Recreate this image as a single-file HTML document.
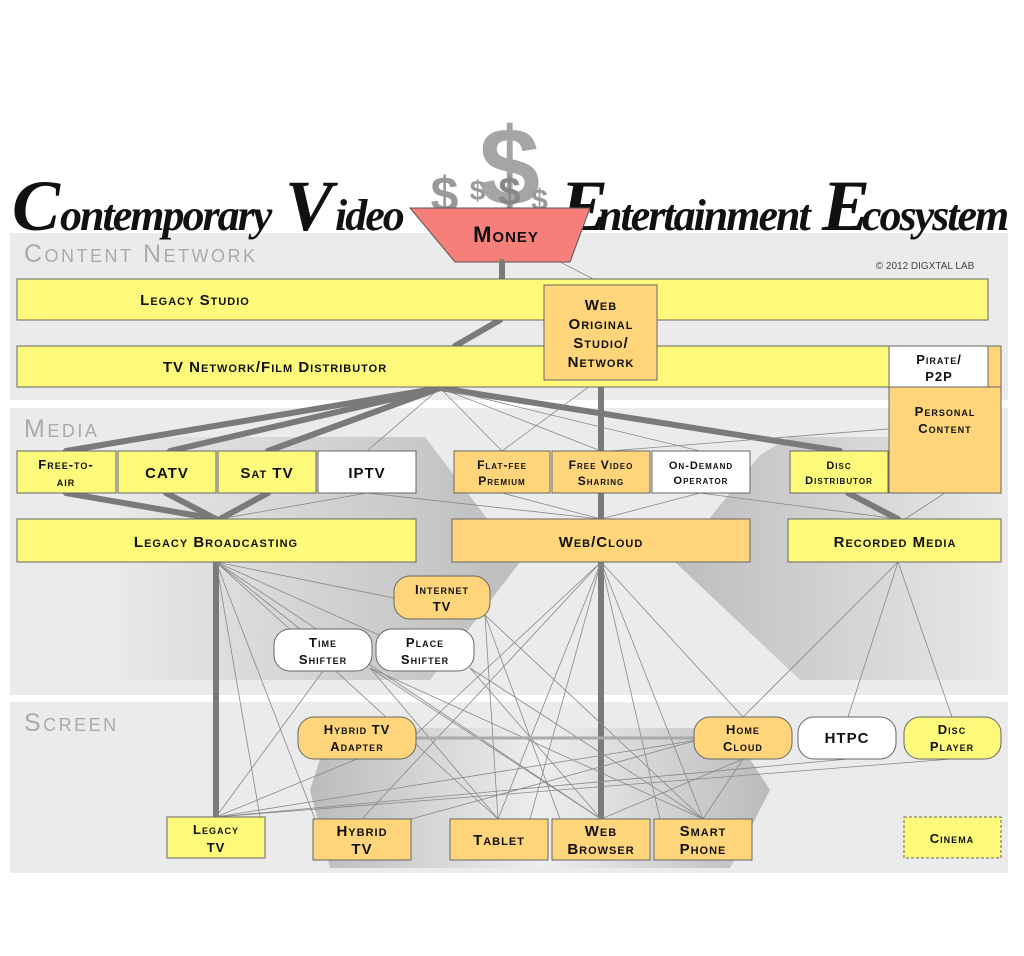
<!DOCTYPE html>
<html><head><meta charset="utf-8"><style>
html,body{margin:0;padding:0;background:#fff;width:1024px;height:956px;overflow:hidden}
svg text{font-family:"Liberation Sans",sans-serif;font-weight:bold;font-variant:small-caps;letter-spacing:1px;fill:#111;text-anchor:middle}
</style></head><body>
<svg width="1024" height="956" viewBox="0 0 1024 956" xmlns="http://www.w3.org/2000/svg">
<defs>
<linearGradient id="gh" x1="0" x2="1"><stop offset="0" stop-color="#bbb"/><stop offset=".5" stop-color="#eee"/><stop offset="1" stop-color="#bbb"/></linearGradient>
<linearGradient id="gl" x1="0" x2="1"><stop offset="0" stop-color="#e8e8e8"/><stop offset="1" stop-color="#bdbdbd"/></linearGradient>
<linearGradient id="gr" x1="0" x2="1"><stop offset="0" stop-color="#bdbdbd"/><stop offset="1" stop-color="#e8e8e8"/></linearGradient>
</defs>
<rect x="10" y="233" width="998" height="167" fill="#ebebeb"/>
<rect x="10" y="408" width="998" height="287" fill="#ebebeb"/>
<rect x="10" y="702" width="998" height="171" fill="#ebebeb"/>
<polygon points="120,437 425,437 520,562 430,680 120,680" fill="url(#gl)"/>
<polygon points="675,562 760,455 790,437 1000,437 1000,680 800,680" fill="url(#gr)"/>
<polygon points="330,728 730,728 770,790 730,868 330,868 310,790" fill="url(#gh)"/>
<text x="24" y="262" style="font-size:25px;fill:#aaa;font-weight:normal;text-anchor:start;letter-spacing:2.5px">Content Network</text>
<text x="24" y="437" style="font-size:25px;fill:#aaa;font-weight:normal;text-anchor:start;letter-spacing:2.5px">Media</text>
<text x="24" y="731" style="font-size:25px;fill:#aaa;font-weight:normal;text-anchor:start;letter-spacing:2.5px">Screen</text>
<text x="925" y="269" style="font-size:10px;font-weight:normal;fill:#444;letter-spacing:0">© 2012 DIGXTAL LAB</text>
<g>
<text x="12" y="230" style="font-family:'Liberation Serif',serif;font-size:72px;text-anchor:start;font-variant:normal;font-style:italic;letter-spacing:-2px">C</text>
<text x="60" y="230" style="font-family:'Liberation Serif',serif;font-size:44px;text-anchor:start;font-variant:normal;font-style:italic;letter-spacing:-2px">ontemporary</text>
<text x="285" y="230" style="font-family:'Liberation Serif',serif;font-size:72px;text-anchor:start;font-variant:normal;font-style:italic;letter-spacing:-2px">V</text>
<text x="335" y="230" style="font-family:'Liberation Serif',serif;font-size:44px;text-anchor:start;font-variant:normal;font-style:italic;letter-spacing:-2px">ideo</text>
<text x="560" y="230" style="font-family:'Liberation Serif',serif;font-size:72px;text-anchor:start;font-variant:normal;font-style:italic;letter-spacing:-2px">E</text>
<text x="598" y="230" style="font-family:'Liberation Serif',serif;font-size:44px;text-anchor:start;font-variant:normal;font-style:italic;letter-spacing:-2px">ntertainment</text>
<text x="822" y="230" style="font-family:'Liberation Serif',serif;font-size:72px;text-anchor:start;font-variant:normal;font-style:italic;letter-spacing:-2px">E</text>
<text x="862" y="230" style="font-family:'Liberation Serif',serif;font-size:44px;text-anchor:start;font-variant:normal;font-style:italic;letter-spacing:-2px">cosystem</text>
</g>
<g>
<text x="510" y="205" style="font-size:110px;fill:#a5a5a5;font-variant:normal">$</text>
<text x="445" y="212" style="font-size:50px;fill:#999;font-variant:normal">$</text>
<text x="478" y="200" style="font-size:28px;fill:#999;font-variant:normal">$</text>
<text x="510" y="205" style="font-size:40px;fill:#888;font-variant:normal">$</text>
<text x="540" y="210" style="font-size:30px;fill:#999;font-variant:normal">$</text>
</g>
<polygon points="410,208 590,208 570,262 455,262" fill="#f77f7a" stroke="#555"/>
<text x="506" y="242" style="font-size:22px">Money</text>
<g stroke="#7a7a7a" stroke-width="6" fill="none" stroke-linecap="round">
<line x1="502" y1="262" x2="502" y2="279"/>
<line x1="500" y1="320" x2="455" y2="346"/>
<line x1="440" y1="388" x2="66" y2="451"/>
<line x1="440" y1="388" x2="170" y2="451"/>
<line x1="440" y1="388" x2="268" y2="451"/>
<line x1="440" y1="388" x2="840" y2="451"/>
<line x1="66" y1="493" x2="216" y2="519"/>
<line x1="166" y1="493" x2="216" y2="519"/>
<line x1="268" y1="493" x2="220" y2="519"/>
<line x1="848" y1="493" x2="898" y2="519"/>
<line x1="601" y1="380" x2="601" y2="519"/>
<line x1="601" y1="562" x2="601" y2="817"/>
<line x1="216" y1="562" x2="216" y2="817"/>
</g>
<g stroke="#888" stroke-width="0.8" fill="none">
<line x1="560" y1="262" x2="605" y2="285"/>
<line x1="440" y1="388" x2="367" y2="451"/>
<line x1="440" y1="388" x2="502" y2="451"/>
<line x1="440" y1="388" x2="601" y2="451"/>
<line x1="440" y1="388" x2="700" y2="451"/>
<line x1="598" y1="380" x2="502" y2="451"/>
<line x1="1001" y1="420" x2="610" y2="451"/>
<line x1="367" y1="493" x2="220" y2="519"/>
<line x1="367" y1="493" x2="601" y2="519"/>
<line x1="502" y1="493" x2="601" y2="519"/>
<line x1="700" y1="493" x2="601" y2="519"/>
<line x1="700" y1="493" x2="898" y2="519"/>
<line x1="945" y1="493" x2="905" y2="519"/>
<line x1="216" y1="562" x2="394" y2="598"/>
<line x1="216" y1="562" x2="300" y2="629"/>
<line x1="216" y1="562" x2="390" y2="640"/>
<line x1="216" y1="562" x2="315" y2="819"/>
<line x1="216" y1="562" x2="260" y2="817"/>
<line x1="216" y1="562" x2="498" y2="819"/>
<line x1="216" y1="562" x2="601" y2="819"/>
<line x1="323" y1="671" x2="216" y2="817"/>
<line x1="370" y1="668" x2="498" y2="819"/>
<line x1="370" y1="668" x2="601" y2="819"/>
<line x1="370" y1="668" x2="703" y2="819"/>
<line x1="470" y1="668" x2="601" y2="819"/>
<line x1="470" y1="668" x2="703" y2="819"/>
<line x1="485" y1="615" x2="498" y2="819"/>
<line x1="485" y1="615" x2="560" y2="819"/>
<line x1="485" y1="615" x2="703" y2="819"/>
<line x1="601" y1="562" x2="362" y2="819"/>
<line x1="601" y1="562" x2="410" y2="740"/>
<line x1="601" y1="562" x2="498" y2="819"/>
<line x1="601" y1="562" x2="530" y2="819"/>
<line x1="601" y1="562" x2="703" y2="819"/>
<line x1="601" y1="562" x2="743" y2="717"/>
<line x1="601" y1="562" x2="660" y2="819"/>
<line x1="898" y1="562" x2="743" y2="717"/>
<line x1="898" y1="562" x2="848" y2="717"/>
<line x1="898" y1="562" x2="952" y2="717"/>
<line x1="357" y1="759" x2="216" y2="817"/>
<line x1="216" y1="817" x2="698" y2="740"/>
<line x1="216" y1="817" x2="848" y2="759"/>
<line x1="216" y1="817" x2="952" y2="759"/>
<line x1="411" y1="819" x2="698" y2="740"/>
<line x1="743" y1="759" x2="601" y2="819"/>
<line x1="743" y1="759" x2="703" y2="819"/>
<line x1="416" y1="738" x2="694" y2="738" stroke="#aaa" stroke-width="3"/>
</g>
<g stroke="#666" stroke-width="1">
<rect x="17" y="279" width="971" height="41" fill="#fdf97a"/>
<rect x="17" y="346" width="984" height="41" fill="#fdf97a"/>
<rect x="889" y="387" width="112" height="106" fill="#fed57a"/>
<rect x="988" y="346" width="13" height="41" fill="#fed57a"/>
<rect x="889" y="346" width="99" height="41" fill="#fff"/>
<rect x="544" y="285" width="113" height="95" fill="#fed57a"/>
<rect x="17" y="451" width="99" height="42" fill="#fdf97a"/>
<rect x="118" y="451" width="98" height="42" fill="#fdf97a"/>
<rect x="218" y="451" width="98" height="42" fill="#fdf97a"/>
<rect x="318" y="451" width="98" height="42" fill="#fff"/>
<rect x="454" y="451" width="96" height="42" fill="#fed57a"/>
<rect x="552" y="451" width="98" height="42" fill="#fed57a"/>
<rect x="652" y="451" width="98" height="42" fill="#fff"/>
<rect x="790" y="451" width="98" height="42" fill="#fdf97a"/>
<rect x="17" y="519" width="399" height="43" fill="#fdf97a"/>
<rect x="452" y="519" width="298" height="43" fill="#fed57a"/>
<rect x="788" y="519" width="213" height="43" fill="#fdf97a"/>
<rect x="394" y="576" width="96" height="43" rx="16" fill="#fed57a"/>
<rect x="274" y="629" width="98" height="42" rx="16" fill="#fff"/>
<rect x="376" y="629" width="98" height="42" rx="16" fill="#fff"/>
<rect x="298" y="717" width="118" height="42" rx="16" fill="#fed57a"/>
<rect x="694" y="717" width="98" height="42" rx="16" fill="#fed57a"/>
<rect x="798" y="717" width="98" height="42" rx="16" fill="#fff"/>
<rect x="904" y="717" width="97" height="42" rx="16" fill="#fdf97a"/>
<rect x="167" y="817" width="98" height="41" fill="#fdf97a"/>
<rect x="313" y="819" width="98" height="41" fill="#fed57a"/>
<rect x="450" y="819" width="98" height="41" fill="#fed57a"/>
<rect x="552" y="819" width="98" height="41" fill="#fed57a"/>
<rect x="654" y="819" width="98" height="41" fill="#fed57a"/>
<rect x="904" y="817" width="97" height="41" fill="#fdf97a" stroke-dasharray="3,2"/>
</g>
<g style="font-size:15px">
<text x="195" y="305">Legacy Studio</text>
<text x="275" y="372">TV Network/Film Distributor</text>
<text x="601" y="310">Web</text><text x="601" y="329">Original</text><text x="601" y="348">Studio/</text><text x="601" y="367">Network</text>
<text x="939" y="364" style="font-size:13px">Pirate/</text><text x="939" y="381" style="font-size:13px">P2P</text>
<text x="945" y="416" style="font-size:13px">Personal</text><text x="945" y="433" style="font-size:13px">Content</text>
<text x="66" y="469" style="font-size:13px">Free-to-</text><text x="66" y="486" style="font-size:13px">air</text>
<text x="167" y="478">CATV</text>
<text x="267" y="478">Sat TV</text>
<text x="367" y="478">IPTV</text>
<text x="502" y="469" style="font-size:12px">Flat-fee</text><text x="502" y="485" style="font-size:12px">Premium</text>
<text x="601" y="469" style="font-size:12px">Free Video</text><text x="601" y="485" style="font-size:12px">Sharing</text>
<text x="701" y="469" style="font-size:11px">On-Demand</text><text x="701" y="484" style="font-size:11px">Operator</text>
<text x="839" y="469" style="font-size:11px">Disc</text><text x="839" y="484" style="font-size:11px">Distributor</text>
<text x="216" y="547">Legacy Broadcasting</text>
<text x="601" y="547">Web/Cloud</text>
<text x="895" y="547">Recorded Media</text>
<text x="442" y="594" style="font-size:13px">Internet</text><text x="442" y="611" style="font-size:13px">TV</text>
<text x="323" y="647" style="font-size:13px">Time</text><text x="323" y="664" style="font-size:13px">Shifter</text>
<text x="425" y="647" style="font-size:13px">Place</text><text x="425" y="664" style="font-size:13px">Shifter</text>
<text x="357" y="734" style="font-size:13px">Hybrid TV</text><text x="357" y="751" style="font-size:13px">Adapter</text>
<text x="743" y="734" style="font-size:13px">Home</text><text x="743" y="751" style="font-size:13px">Cloud</text>
<text x="847" y="743">HTPC</text>
<text x="952" y="734" style="font-size:13px">Disc</text><text x="952" y="751" style="font-size:13px">Player</text>
<text x="216" y="834" style="font-size:13px">Legacy</text><text x="216" y="852" style="font-size:13px">TV</text>
<text x="362" y="836">Hybrid</text><text x="362" y="854">TV</text>
<text x="499" y="845">Tablet</text>
<text x="601" y="836">Web</text><text x="601" y="854">Browser</text>
<text x="703" y="836">Smart</text><text x="703" y="854">Phone</text>
<text x="952" y="843" style="font-size:13px">Cinema</text>
</g>
</svg>
</body></html>
